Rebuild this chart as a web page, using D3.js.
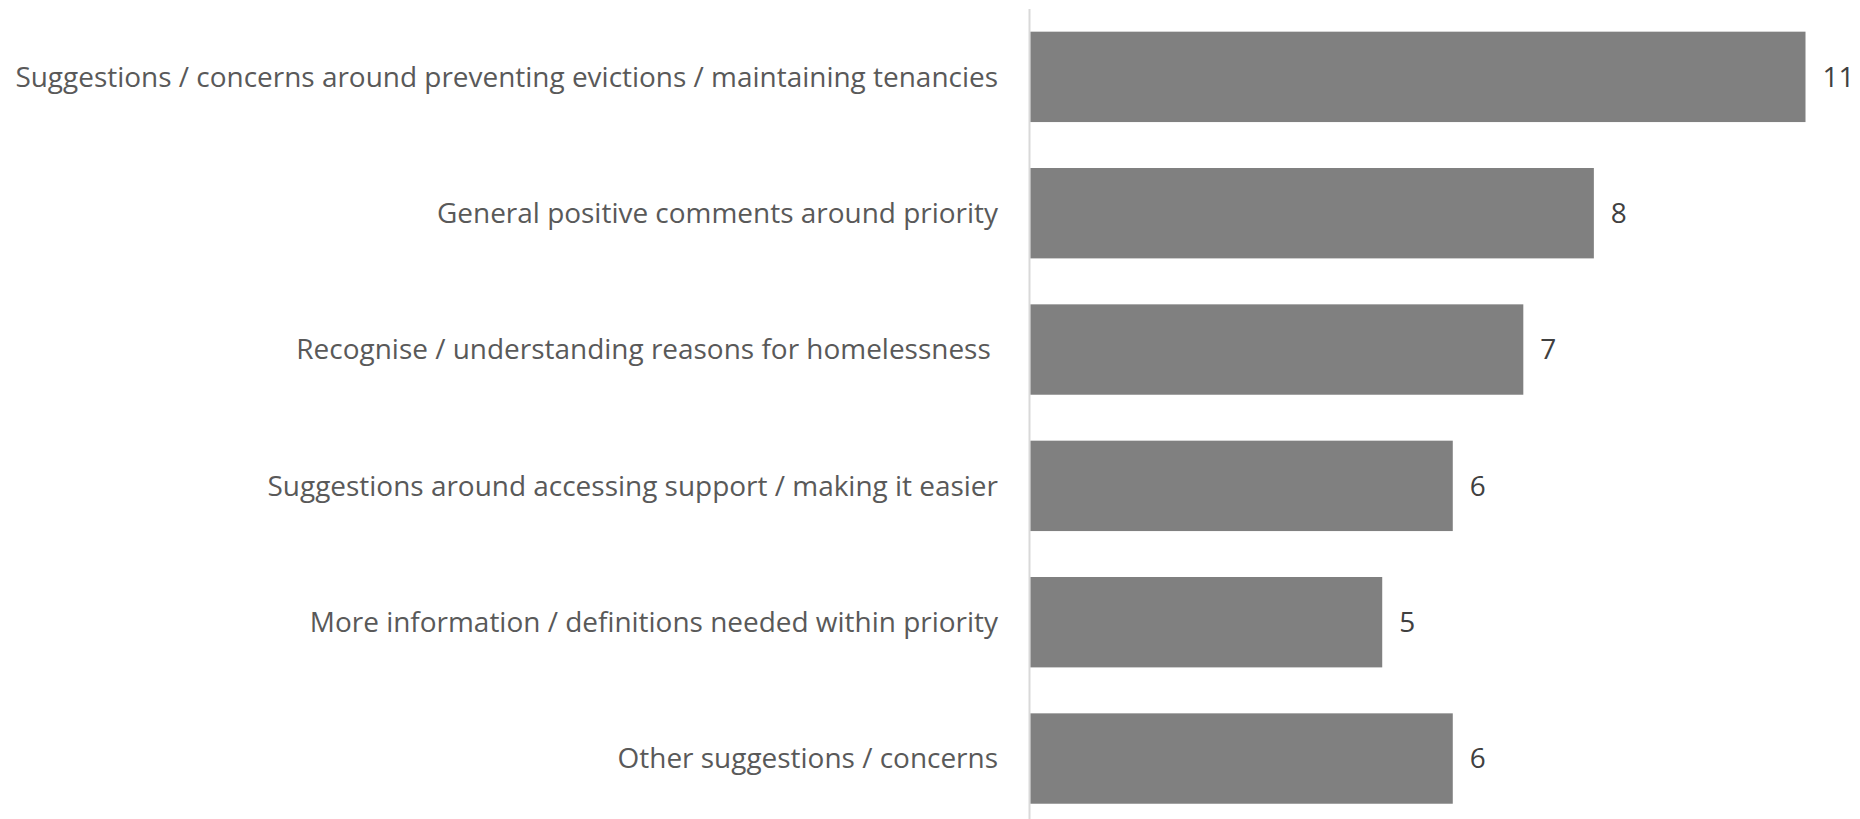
<!DOCTYPE html>
<html>
<head>
<meta charset="utf-8">
<script src="https://cdn.jsdelivr.net/npm/d3@7"></script>
<style>
  html, body { margin: 0; padding: 0; background: #ffffff; }
  svg { display: block; }
  text { font-family: "Open Sans", "Noto Sans", sans-serif; white-space: pre; }
</style>
</head>
<body>
<svg id="chart" width="1860" height="819"></svg>
<script>
const categories = [
  "Suggestions / concerns around preventing evictions / maintaining tenancies",
  "General positive comments around priority",
  "Recognise / understanding reasons for homelessness ",
  "Suggestions around accessing support / making it easier",
  "More information / definitions needed within priority",
  "Other suggestions / concerns"
];
const values = [11, 8, 7, 6, 5, 6];

const W = 1860, H = 819;
const svg = d3.select("#chart");

const axisX = 1029.5;
const x = d3.scaleLinear().domain([0, 11]).range([axisX, 1805.5]);
const y = d3.scaleBand().domain(categories).range([8.7, 826.7]).paddingInner(0.337).paddingOuter(0.1685);

// axis line
svg.append("line")
  .attr("x1", axisX).attr("x2", axisX)
  .attr("y1", 9).attr("y2", H)
  .attr("stroke", "#d9d9d9").attr("stroke-width", 2);

// bars
svg.selectAll("rect.bar").data(categories).enter().append("rect")
  .attr("class", "bar")
  .attr("x", x(0) + 1)
  .attr("y", d => y(d))
  .attr("width", (d, i) => x(values[i]) - x(0) - 1)
  .attr("height", y.bandwidth())
  .attr("fill", "#808080");

// category labels
const labels = svg.selectAll("text.cat").data(categories).enter().append("text")
  .attr("class", "cat")
  .attr("x", 998)
  .attr("y", d => y(d) + y.bandwidth() / 2)
  .attr("dy", "0.35em")
  .attr("text-anchor", "end")
  .attr("fill", "#595959")
  .attr("font-size", 28)
  .text(d => d);

// fit font size so the longest label spans ~983px
let maxW = 0;
labels.each(function() { maxW = Math.max(maxW, this.getComputedTextLength()); });
const fs = 28 * 983 / maxW;
labels.attr("font-size", fs);

// value labels
svg.selectAll("text.val").data(categories).enter().append("text")
  .attr("class", "val")
  .attr("x", (d, i) => x(values[i]) + 17)
  .attr("y", d => y(d) + y.bandwidth() / 2)
  .attr("dy", "0.35em")
  .attr("fill", "#404040")
  .attr("font-size", fs)
  .text((d, i) => values[i]);
</script>
</body>
</html>
